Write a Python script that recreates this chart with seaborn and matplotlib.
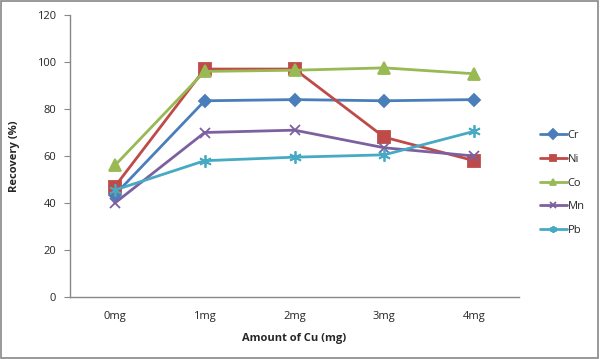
import pandas as pd
import matplotlib.pyplot as plt
import seaborn as sns
from matplotlib.patches import Rectangle

doses = ['0mg', '1mg', '2mg', '3mg', '4mg']
cr = [43.5, 83.5, 84, 83.5, 84]
ni = [47, 97, 97, 68, 58]
co = [56, 96, 96.5, 97.5, 95]
mn = [40, 70, 71, 63.5, 60]
pb = [45.5, 58, 59.5, 60.5, 70.5]

elements = ['Cr', 'Ni', 'Co', 'Mn', 'Pb']
series = [cr, ni, co, mn, pb]

df = pd.DataFrame({
    'dose': doses * len(elements),
    'element': [e for e in elements for _ in doses],
    'recovery': [v for s in series for v in s],
})

palette = {'Cr': '#4A7EBB', 'Ni': '#BE4B48', 'Co': '#98B954',
           'Mn': '#7D60A0', 'Pb': '#46AAC5'}
markers = {'Cr': 'D', 'Ni': 's', 'Co': '^', 'Mn': 'x', 'Pb': (6, 2, 0)}
sizes = {'Cr': 6, 'Ni': 8, 'Co': 8, 'Mn': 7, 'Pb': 9}

sns.set_style('white')
plt.rcParams['font.family'] = ['Open Sans', 'DejaVu Sans']

fig = plt.figure(figsize=(6, 3.59), dpi=100)
ax = fig.add_axes([70 / 600, 1 - 297 / 359, 449 / 600, 282 / 359])

for el in elements:
    sns.lineplot(data=df[df.element == el], x='dose', y='recovery',
                 color=palette[el], marker=markers[el], markersize=sizes[el],
                 markeredgecolor=palette[el], markeredgewidth=1.3,
                 linewidth=2, label=el, ax=ax)

ax.set_xlim(-0.5, 4.5)
ax.set_ylim(0, 120)
ax.set_yticks(range(0, 121, 20))
ax.set_xticks(range(5))
ax.set_xticklabels(doses)
ax.set_xticks([-0.5, 0.5, 1.5, 2.5, 3.5, 4.5], minor=True)
ax.tick_params(axis='x', which='major', length=0, pad=10, labelsize=8)
ax.tick_params(axis='x', which='minor', length=4, color='#888888', direction='out')
ax.tick_params(axis='y', length=4, color='#888888', direction='out', left=True,
               labelsize=8, pad=6)
for side in ['top', 'right']:
    ax.spines[side].set_visible(False)
for side in ['left', 'bottom']:
    ax.spines[side].set_color('#888888')
    ax.spines[side].set_linewidth(1)

ax.set_xlabel('Amount of Cu (mg)', fontsize=8, fontweight='bold', labelpad=8)
ax.set_ylabel('Recovery (%)', fontsize=8, fontweight='bold', labelpad=12)

leg = ax.legend(loc='upper left', bbox_to_anchor=(530 / 600, 1 - 120 / 359),
                bbox_transform=fig.transFigure, frameon=False, fontsize=8,
                handlelength=2.4, handletextpad=0.1, labelspacing=1.15)
for h in leg.legend_handles:
    h.set_markersize(5)

fig.patches.append(Rectangle((0.002, 0.003), 0.995, 0.993, transform=fig.transFigure,
                             fill=False, edgecolor='#888888', linewidth=1.2))

fig.savefig('out.png', dpi=100)
